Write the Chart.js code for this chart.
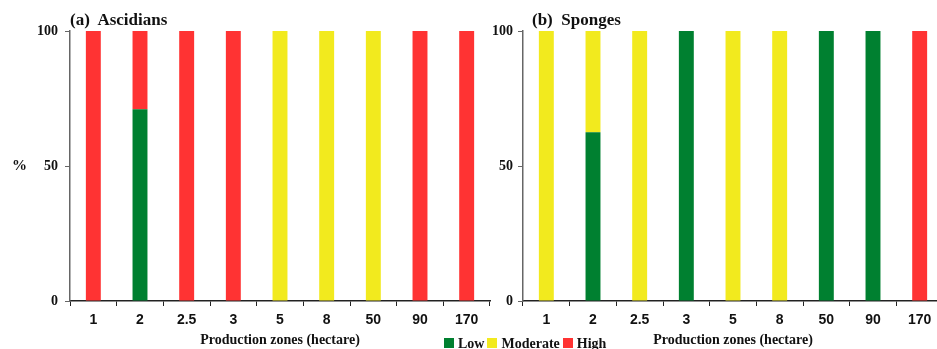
<!DOCTYPE html>
<html>
<head>
<meta charset="utf-8">
<script src="https://cdn.jsdelivr.net/npm/chart.js@4/dist/chart.umd.min.js"></script>
<style>
  html, body { margin: 0; padding: 0; background: #fff; }
  #wrap { position: relative; width: 937px; height: 349px; overflow: hidden; }
  .cv { position: absolute; top: 0; height: 349px; }
  .lbl { position: absolute; font-family: "Liberation Serif", "DejaVu Serif", serif; font-weight: bold; color: #111; white-space: nowrap; }
  .sq { display: inline-block; width: 10px; height: 10px; margin: 0 4px 0 3px; vertical-align: 0px; }
</style>
</head>
<body>
<div id="wrap">
  <div class="cv" style="left:0; width:492px;"><canvas id="chartA"></canvas></div>
  <div class="cv" style="left:470px; width:480px;"><canvas id="chartB"></canvas></div>
  <div class="lbl" style="left:70px; top:10px; font-size:17px;">(a)&nbsp; Ascidians</div>
  <div class="lbl" style="left:532px; top:10px; font-size:17px;">(b)&nbsp; Sponges</div>
  <div class="lbl" style="left:12px; top:157px; font-size:15px;">%</div>
  <div class="lbl" style="left:441px; top:336px; font-size:14px;">
    <span class="sq" style="background:#008030"></span>Low<span class="sq" style="background:#f2ea1e"></span>Moderate<span class="sq" style="background:#ff3333"></span>High
  </div>
</div>
<script>
// categories (production zone size, hectare)
var zones = ['1', '2', '2.5', '3', '5', '8', '50', '90', '170'];

// (a) Ascidians, % of each class
var ascLow      = [0, 71, 0, 0, 0, 0, 0, 0, 0];
var ascModerate = [0, 0, 0, 0, 100, 100, 100, 0, 0];
var ascHigh     = [100, 29, 100, 100, 0, 0, 0, 100, 100];

// (b) Sponges
var spoLow      = [0, 62.5, 0, 100, 0, 0, 100, 100, 0];
var spoModerate = [100, 37.5, 100, 0, 100, 100, 0, 0, 0];
var spoHigh     = [0, 0, 0, 0, 0, 0, 0, 0, 100];

var yTicks = [0, 50, 100];

var GREEN = '#008030', YELLOW = '#f2ea1e', RED = '#ff3333';

function makeChart(id, low, mod, high, yWidth, padRight, yPad) {
    var ctx = document.getElementById(id).getContext('2d');
    return new Chart(ctx, {
        type: 'bar',
        data: {
            labels: zones,
            datasets: [
                { label: 'Low', data: low, backgroundColor: GREEN },
                { label: 'Moderate', data: mod, backgroundColor: YELLOW },
                { label: 'High', data: high, backgroundColor: RED }
            ]
        },
        options: {
            responsive: true,
            maintainAspectRatio: false,
            animation: false,
            layout: { padding: { top: 31, right: padRight, bottom: 0, left: 0 } },
            datasets: { bar: { categoryPercentage: 1, barPercentage: 0.32 } },
            plugins: { legend: { display: false }, tooltip: { enabled: false } },
            scales: {
                x: {
                    stacked: true,
                    afterFit: function(s) { s.height = 48; },
                    border: { color: '#222', width: 1.5 },
                    grid: { drawOnChartArea: false, drawTicks: true, tickLength: 5, color: '#222', offset: true },
                    ticks: { color: '#111', padding: 6, font: { family: 'Liberation Sans', weight: 'bold', size: 14 } },
                    title: {
                        display: true,
                        text: 'Production zones (hectare)',
                        color: '#111',
                        padding: { top: 1, bottom: 0 },
                        font: { family: 'Liberation Serif', weight: 'bold', size: 14 }
                    }
                },
                y: {
                    stacked: true,
                    min: 0,
                    max: 100,
                    afterFit: function(s) { s.width = yWidth; },
                    afterBuildTicks: function(s) { s.ticks = yTicks.map(function(v) { return { value: v }; }); },
                    border: { color: '#666', width: 1.5 },
                    grid: { drawOnChartArea: false, drawTicks: true, tickLength: 5, color: '#666' },
                    ticks: { color: '#111', padding: yPad, font: { family: 'Liberation Serif', weight: 'bold', size: 14 } }
                }
            }
        }
    });
}

makeChart('chartA', ascLow, ascModerate, ascHigh, 70, 2, 7);
makeChart('chartB', spoLow, spoModerate, spoHigh, 53, 7, 5);
</script>
</body>
</html>
